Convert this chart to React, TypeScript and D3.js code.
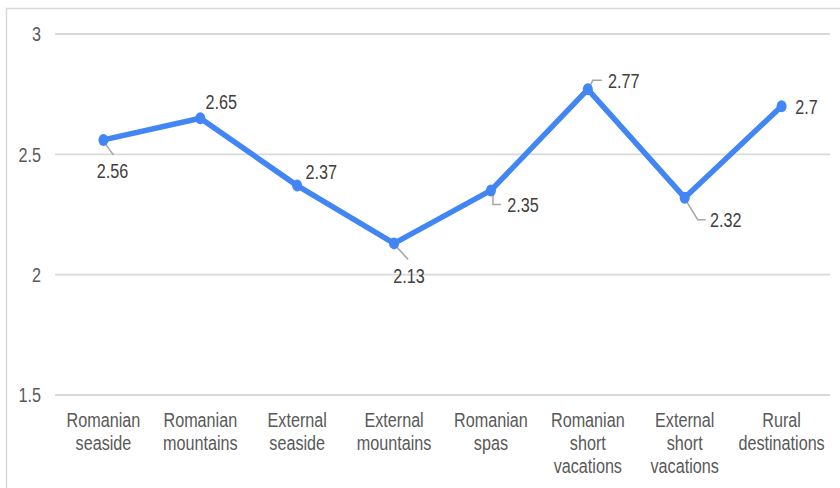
import React from "react";
import * as d3 from "d3";

const categories: string[][] = [
  ["Romanian", "seaside"],
  ["Romanian", "mountains"],
  ["External", "seaside"],
  ["External", "mountains"],
  ["Romanian", "spas"],
  ["Romanian", "short", "vacations"],
  ["External", "short", "vacations"],
  ["Rural", "destinations"],
];
const values: number[] = [2.56, 2.65, 2.37, 2.13, 2.35, 2.77, 2.32, 2.7];
const yTicks: number[] = [1.5, 2, 2.5, 3];

// label placement: text offset (center, baseline) and leader polyline relative to the point
const labelPlacement: { dx: number; dy: number; leader: [number, number][] }[] = [
  { dx: 9, dy: 38, leader: [[1, 3], [10, 15]] },
  { dx: 21, dy: -9, leader: [] },
  { dx: 24, dy: -7, leader: [] },
  { dx: 15, dy: 40, leader: [[2, 3], [14, 16]] },
  { dx: 32, dy: 22, leader: [[2, 4], [2, 14], [10, 14]] },
  { dx: 36, dy: -1, leader: [[2, -3], [5, -9], [14, -9]] },
  { dx: 41, dy: 29, leader: [[2, 4], [13, 22], [21, 22]] },
  { dx: 25, dy: 8, leader: [] },
];

const W = 840;
const H = 488;
const left = 55;
const right = 830;
const top = 34;
const bottom = 395;
const SX = 0.77;
const FS = 21;

export default function App() {
  const x = d3
    .scaleBand<number>()
    .domain(values.map((_, i) => i))
    .range([left, right]);
  const y = d3.scaleLinear().domain([1.5, 3]).range([bottom, top]);
  const line = d3
    .line<number>()
    .x((_, i) => x(i)! + x.bandwidth() / 2)
    .y((d) => y(d));

  const Txt = (props: {
    x: number;
    y: number;
    anchor: string;
    fill: string;
    children: React.ReactNode;
    dy?: string;
  }) => (
    <text
      transform={`translate(${props.x},${props.y}) scale(${SX},1)`}
      textAnchor={props.anchor as any}
      fill={props.fill}
      fontSize={FS}
      dy={props.dy}
      fontFamily="'Liberation Sans', Arial, sans-serif"
    >
      {props.children}
    </text>
  );

  return (
    <svg
      width={W}
      height={H}
      style={{ position: "absolute", left: 0, top: 0, background: "#fff" }}
    >
      <rect x={6.5} y={8.5} width={W} height={H} fill="#fff" stroke="#d9d9d9" strokeWidth={1.5} />
      {yTicks.map((t) => (
        <g key={t}>
          <line x1={left} x2={right} y1={y(t)} y2={y(t)} stroke="#d9d9d9" strokeWidth={1.8} />
          <Txt x={41} y={y(t)} anchor="end" fill="#595959" dy="0.35em">
            {String(t)}
          </Txt>
        </g>
      ))}
      {categories.map((lines, i) => (
        <g key={i}>
          {lines.map((l, j) => (
            <Txt
              key={j}
              x={x(i)! + x.bandwidth() / 2}
              y={427 + j * 23}
              anchor="middle"
              fill="#595959"
            >
              {l}
            </Txt>
          ))}
        </g>
      ))}
      {values.map((v, i) => {
        const px = x(i)! + x.bandwidth() / 2;
        const py = y(v);
        const p = labelPlacement[i];
        return p.leader.length ? (
          <polyline
            key={"l" + i}
            points={p.leader.map(([a, b]) => `${px + a},${py + b}`).join(" ")}
            fill="none"
            stroke="#a6a6a6"
            strokeWidth={1.5}
          />
        ) : null;
      })}
      <path d={line(values) || ""} fill="none" stroke="#4285f4" strokeWidth={5.5} strokeLinejoin="round" />
      {values.map((v, i) => (
        <ellipse
          key={"c" + i}
          cx={x(i)! + x.bandwidth() / 2}
          cy={y(v)}
          rx={5}
          ry={6}
          fill="#4285f4"
        />
      ))}
      {values.map((v, i) => {
        const px = x(i)! + x.bandwidth() / 2;
        const py = y(v);
        const p = labelPlacement[i];
        return (
          <Txt key={"t" + i} x={px + p.dx} y={py + p.dy} anchor="middle" fill="#404040">
            {String(v)}
          </Txt>
        );
      })}
    </svg>
  );
}
